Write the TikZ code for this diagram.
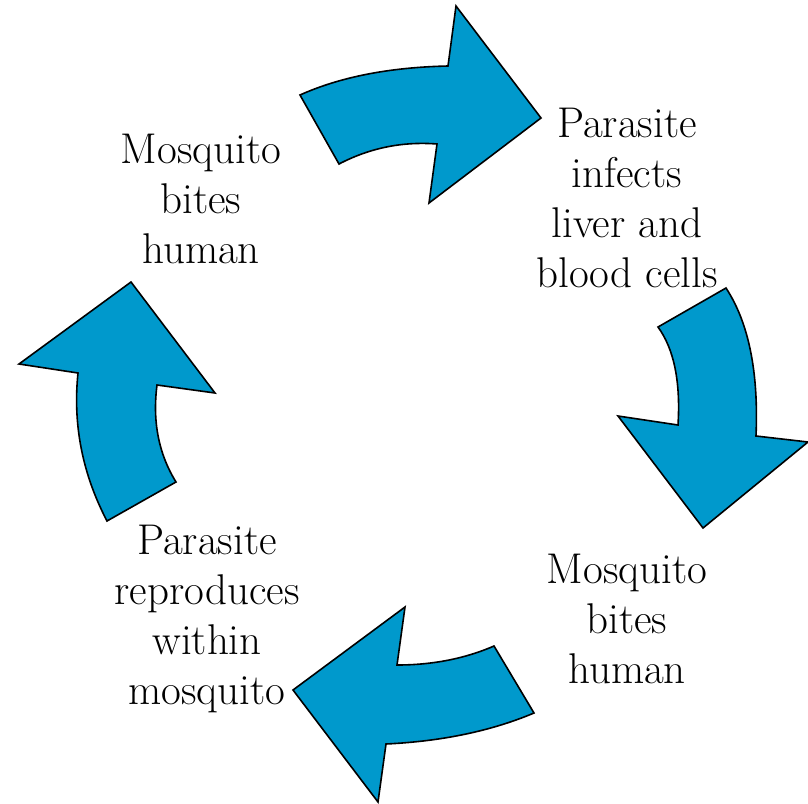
\documentclass[tikz,border=0pt]{standalone}
\definecolor{arrowblue}{RGB}{0,153,204}
\begin{document}
\begin{tikzpicture}[x=1pt,y=-1pt,
  blockarrow/.style={fill=arrowblue,draw=black,line width=1.6pt,line join=miter},
  txt/.style={align=center,font=\rmfamily\fontsize{43}{50}\selectfont,inner sep=0pt}]
\useasboundingbox (0,0) rectangle (808,803);
% top arrow
\draw[blockarrow] (300,95) .. controls (340,77) and (389.3,67.3) .. (448,66) -- (456,6) -- (541,118) -- (429,203) -- (437,144) .. controls (402.3,141.3) and (369.7,148) .. (339,164) -- cycle;
% right arrow
\draw[blockarrow] (726,288) .. controls (748.7,322.7) and (758.7,372) .. (756,436) -- (808,442) -- (703,528) -- (618,416) -- (678,425) .. controls (680.7,381.7) and (674,349) .. (658,327) -- cycle;
% bottom arrow
\draw[blockarrow] (534,713) .. controls (491.3,731) and (442,741.3) .. (386,744) -- (378,802) -- (293,690) -- (405,607) -- (397,665) .. controls (432.3,665) and (464.7,658.7) .. (494,646) -- cycle;
% left arrow
\draw[blockarrow] (107,521) .. controls (82.3,473.7) and (72.7,424.3) .. (78,373) -- (19,364) -- (131,282) -- (215,393) -- (157,385) .. controls (152.3,421.7) and (158.7,454) .. (176,482) -- cycle;
\node[txt] (tl) at (201,199) {Mosquito\\bites\\human};
\node[txt] (tr) at (627,198) {Parasite\\infects\\liver and\\blood cells};
\node[txt] (br) at (627,619) {Mosquito\\bites\\human};
\node[txt] (bl) at (207,619) {Parasite\\reproduces\\within\\mosquito};
\end{tikzpicture}
\end{document}
